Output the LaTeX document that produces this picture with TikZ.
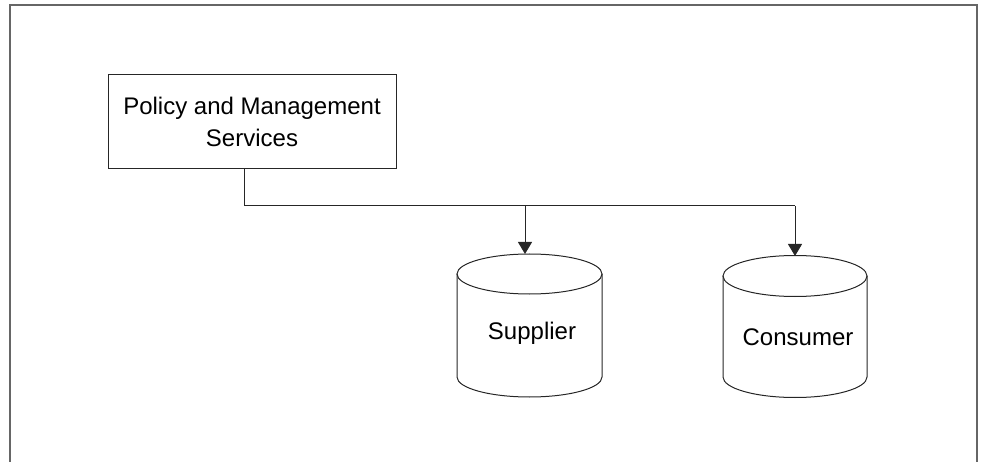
\documentclass[tikz,border=0pt]{standalone}
\usepackage{fontspec}
\setmainfont{Liberation Sans}
\usetikzlibrary{arrows.meta}
\begin{document}
\begin{tikzpicture}[x=1pt,y=-1pt,
  line/.style={draw=black!85,line width=1pt},
  arr/.style={line,-{Triangle[width=14pt,length=12pt]}},
  lbl/.style={font=\fontsize{24}{32}\selectfont,inner sep=0pt,align=center},
  boxnode/.style={line,rectangle,minimum width=288pt,minimum height=94pt,inner sep=0pt,
    font=\fontsize{24}{32}\selectfont,align=center}]
\useasboundingbox (0,0) rectangle (982,462);
% open frame
\draw[black!60,line width=2pt] (10,462) -- (10,5) -- (977,5) -- (977,462);
% management box
\node[boxnode] (pms) at (252,122) {Policy and Management\\Services};
% databases
\def\cyl#1#2#3#4#5{% cx, rx, top y, ry, bottom y
  \draw[line] (#1-#2,#3) -- (#1-#2,#5) arc[start angle=180,end angle=360,x radius=#2,y radius=-#4]
    -- (#1+#2,#3);
  \draw[line] (#1,#3) ellipse[x radius=#2,y radius=#4];}
\cyl{529.5}{72.5}{274}{20}{377}
\cyl{795}{72}{276}{20.5}{377}
\node[lbl] (sup) at (532,333) {Supplier};
\node[lbl] (con) at (798,337) {Consumer};
\coordinate (suptop) at (525,254);
\coordinate (contop) at (795,256);
\coordinate (drop) at ([xshift=-8pt]pms.south);
\coordinate (split) at (drop |- 0,206);
\coordinate (bend) at (795,206);
\draw[line] (drop) -- (split) -- (bend);
\draw[arr] (525,206) -- (suptop);
\draw[arr] (bend) -- (contop);
\end{tikzpicture}
\end{document}
